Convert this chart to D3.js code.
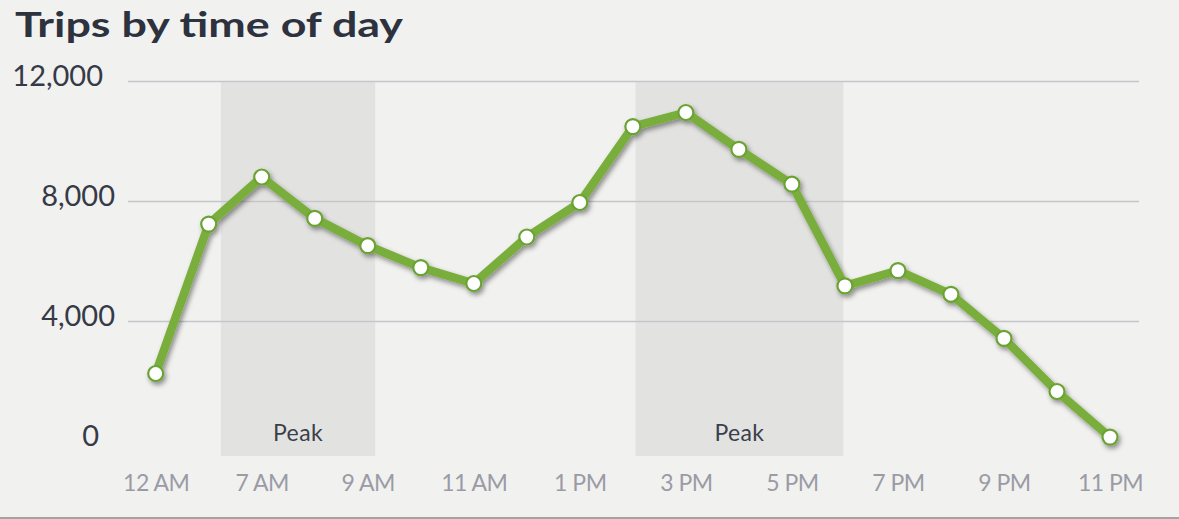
<!DOCTYPE html>
<html>
<head>
<meta charset="utf-8">
<script src="https://cdn.jsdelivr.net/npm/d3@7"></script>
<style>
  html, body { margin: 0; padding: 0; background: #f1f1f0; }
  svg { display: block; }
  text { font-family: Lato, "Open Sans", sans-serif; }
</style>
</head>
<body>
<svg id="chart" width="1179" height="519"></svg>
<script>
// Hour of day for each reading (0 = midnight); the hours 1–5 AM are not reported
const hours = [0, 6, 7, 8, 9, 10, 11, 12, 13, 14, 15, 16, 17, 18, 19, 20, 21, 22, 23];
// Number of trips starting in each hour
const trips = [2250, 7230, 8800, 7420, 6510, 5780, 5250, 6800, 7950, 10480, 10950, 9720, 8560, 5170, 5680, 4890, 3420, 1650, 130];
// Hours that get an axis label
const tickHours = [0, 7, 9, 11, 13, 15, 17, 19, 21, 23];
// Trip counts that get a grid line / label
const yTicks = [0, 4000, 8000, 12000];
// Rush-hour windows (fractional hours)
const peakStarts = [6.23, 14.05];
const peakEnds = [9.14, 17.97];
const peakLabels = ["Peak", "Peak"];

const svg = d3.select("#chart");
const W = 1179, H = 519;

// Hours 0 and 6 sit one step apart, then one step per hour
const x = d3.scaleLinear().domain([0, 6, 23]).range([155.7, 208.7, 1110]);
const y = d3.scaleLinear().domain([0, 12000]).range([441, 81]);
const gridLeft = 128, gridRight = 1139;

const hourLabel = h => (h % 12 === 0 ? 12 : h % 12) + " " + (h < 12 ? "AM" : "PM");

// Soft shadow under the line and markers
const defs = svg.append("defs");
const f = defs.append("filter").attr("id", "shadow")
  .attr("x", "-10%").attr("y", "-10%").attr("width", "120%").attr("height", "130%");
f.append("feDropShadow").attr("dx", 2).attr("dy", 3).attr("stdDeviation", 2.4)
  .attr("flood-color", "#000").attr("flood-opacity", 0.42);

// Title
svg.append("text")
  .attr("x", 15).attr("y", 37)
  .attr("font-family", "'Open Sans', Lato, sans-serif")
  .attr("font-size", 35).attr("font-weight", 700)
  .attr("fill", "#2d323e")
  .attr("textLength", 388).attr("lengthAdjust", "spacingAndGlyphs")
  .text("Trips by time of day");

// Peak bands
const peaks = peakStarts.map((s, i) => ({ start: s, end: peakEnds[i], label: peakLabels[i] }));
const bandTop = y(12000), bandBottom = 456;
const bands = svg.append("g");
bands.selectAll("rect").data(peaks).join("rect")
  .attr("x", d => x(d.start)).attr("width", d => x(d.end) - x(d.start))
  .attr("y", bandTop).attr("height", bandBottom - bandTop)
  .attr("fill", "#e2e3e1");
bands.selectAll("text").data(peaks).join("text")
  .attr("x", d => (x(d.start) + x(d.end)) / 2).attr("y", 441)
  .attr("text-anchor", "middle")
  .attr("font-size", 23).attr("fill", "#3b3f4b")
  .attr("letter-spacing", "0.4")
  .text(d => d.label);

// Y axis with grid lines
const yAxis = d3.axisLeft(y)
  .tickValues(yTicks)
  .tickFormat(d3.format(","))
  .tickSize(-(gridRight - gridLeft))
  .tickPadding(13);
const gy = svg.append("g").attr("transform", `translate(${gridLeft},0)`).call(yAxis);
gy.select(".domain").remove();
gy.selectAll(".tick line")
  .attr("stroke", "#c5c6cb").attr("stroke-width", 1.3)
  .filter(d => d === 0).remove();
gy.selectAll(".tick text")
  .attr("font-size", 29).attr("fill", "#363a46")
  .attr("font-family", "Lato, sans-serif")
  .attr("dy", "0.32em")
  .attr("y", -5)
  .attr("dx", d => d === 12000 ? -12 : d === 0 ? -16 : 0);

// X axis labels
const xAxis = d3.axisBottom(x)
  .tickValues(tickHours)
  .tickFormat(hourLabel)
  .tickSize(0)
  .tickPadding(0);
const gx = svg.append("g").attr("transform", "translate(0,491)").call(xAxis);
gx.select(".domain").remove();
gx.selectAll(".tick text")
  .attr("font-size", 23).attr("fill", "#9a9ba5")
  .attr("font-family", "Lato, sans-serif")
  .attr("letter-spacing", "-0.5")
  .attr("dy", 0).attr("y", 0);

// Trips line with markers
const points = hours.map((h, i) => ({ h, v: trips[i] }));
const line = d3.line().x(d => x(d.h)).y(d => y(d.v));
const series = svg.append("g").attr("filter", "url(#shadow)");
series.append("path")
  .datum(points)
  .attr("d", line)
  .attr("fill", "none")
  .attr("stroke", "#79ae3c")
  .attr("stroke-width", 8.5)
  .attr("stroke-linejoin", "round")
  .attr("stroke-linecap", "round");
series.selectAll("circle").data(points).join("circle")
  .attr("cx", d => x(d.h)).attr("cy", d => y(d.v))
  .attr("r", 7.5)
  .attr("fill", "#ffffff")
  .attr("stroke", "#6aa333")
  .attr("stroke-width", 2.2);

// Bottom rule
svg.append("line")
  .attr("x1", 0).attr("x2", W).attr("y1", 518).attr("y2", 518)
  .attr("stroke", "#a3a3a3").attr("stroke-width", 2);
</script>
</body>
</html>
